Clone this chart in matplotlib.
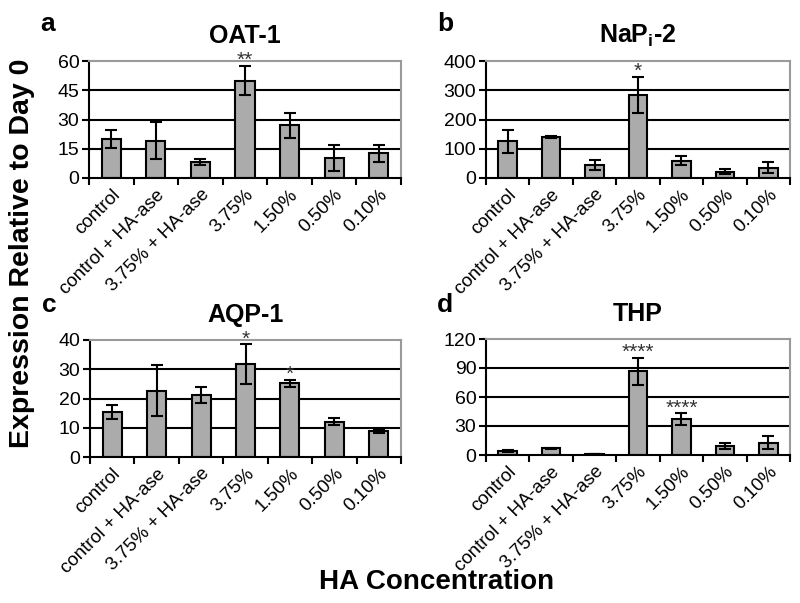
import numpy as np
import matplotlib.pyplot as plt

plt.rcParams["font.family"] = ["Liberation Sans", "DejaVu Sans"]
plt.rcParams["mathtext.fontset"] = "custom"
plt.rcParams["mathtext.bf"] = "Liberation Sans:bold"
plt.rcParams["mathtext.rm"] = "Liberation Sans"

categories = ["control", "control + HA-ase", "3.75% + HA-ase",
              "3.75%", "1.50%", "0.50%", "0.10%"]

oat1_mean = [20, 19, 8.2, 50, 27, 10.3, 12.6]
oat1_err = [4.5, 9.5, 1.4, 7.5, 6.5, 6.5, 4.3]
oat1_stars = ["", "", "", "**", "", "", ""]

napi2_mean = [125, 139, 45, 284, 59, 22, 35]
napi2_err = [40, 3, 16, 61, 16, 8, 19]
napi2_stars = ["", "", "", "*", "", "", ""]

aqp1_mean = [15.4, 22.6, 21.1, 31.8, 25.2, 12.1, 8.9]
aqp1_err = [2.5, 8.7, 2.8, 6.7, 1.2, 1.3, 0.6]
aqp1_stars = ["", "", "", "*", "*", "", ""]

thp_mean = [3.8, 6.8, 0.8, 86.5, 37, 9.3, 12.7]
thp_err = [1.0, 0.3, 0.1, 14, 6, 2.8, 6.8]
thp_stars = ["", "", "", "****", "****", "", ""]

panels = [
    ("a", "OAT-1", oat1_mean, oat1_err, oat1_stars, [0, 15, 30, 45, 60]),
    ("b", r"NaP$_{\mathbf{i}}$-2", napi2_mean, napi2_err, napi2_stars, [0, 100, 200, 300, 400]),
    ("c", "AQP-1", aqp1_mean, aqp1_err, aqp1_stars, [0, 10, 20, 30, 40]),
    ("d", "THP", thp_mean, thp_err, thp_stars, [0, 30, 60, 90, 120]),
]

# axes boxes in pixels: left, top, right, bottom
boxes = [(89, 61, 401, 178), (486, 61, 790, 178),
         (90, 340, 401, 457), (486, 339, 790, 455)]

W, H = 800, 603
fig = plt.figure(figsize=(8, 6.03), dpi=100)

for (letter, title, mean, err, stars, yticks), (l, t, r, b) in zip(panels, boxes):
    ax = fig.add_axes([l / W, 1 - b / H, (r - l) / W, (b - t) / H])
    x = np.arange(len(categories))
    ax.bar(x, mean, width=0.43, color="#ababab", edgecolor="black",
           linewidth=1.5, zorder=2)
    ax.errorbar(x, mean, yerr=err, fmt="none", ecolor="black",
                elinewidth=1.5, capsize=4, capthick=1.5, zorder=3)
    for xi, m, e, s in zip(x, mean, err, stars):
        if s:
            ax.annotate(s, (xi, m + e), xytext=(0, -3), textcoords="offset points",
                        ha="center", va="bottom", fontsize=15, color="#333333")

    ax.set_xlim(-0.5, len(categories) - 0.5)
    ax.set_ylim(yticks[0], yticks[-1])
    ax.set_yticks(yticks)
    for yv in yticks[1:-1]:
        ax.axhline(yv, color="black", linewidth=1.5, zorder=1)

    ax.set_xticks(x)
    ax.set_xticklabels(categories, rotation=45, ha="right",
                       rotation_mode="anchor", fontsize=13.5)
    ax.set_xticks(np.arange(-0.5, len(categories)), minor=True)
    ax.tick_params(axis="x", which="major", length=0, pad=6)
    ax.tick_params(axis="x", which="minor", length=5, width=1.5, direction="out")
    ax.tick_params(axis="y", length=5, width=1.5, labelsize=14, pad=2)

    for side in ("left", "bottom"):
        ax.spines[side].set_color("black")
        ax.spines[side].set_linewidth(1.5)
    for side in ("top", "right"):
        ax.spines[side].set_color("#9a9a9a")
        ax.spines[side].set_linewidth(1.5)

    ax.set_title(title, fontsize=18, fontweight="bold", pad=13)
    fig.text((l - 41) / W, 1 - 24 / H if t < 200 else 1 - 305 / H, letter,
             fontsize=19, fontweight="bold", ha="center", va="center")

fig.text(22 / W, 1 - 253 / H, "Expression Relative to Day 0", rotation=90,
         fontsize=20.5, fontweight="bold", ha="center", va="center")
fig.text(437 / W, 1 - 582 / H, "HA Concentration",
         fontsize=20, fontweight="bold", ha="center", va="center")

fig.savefig("out.png", dpi=100)
